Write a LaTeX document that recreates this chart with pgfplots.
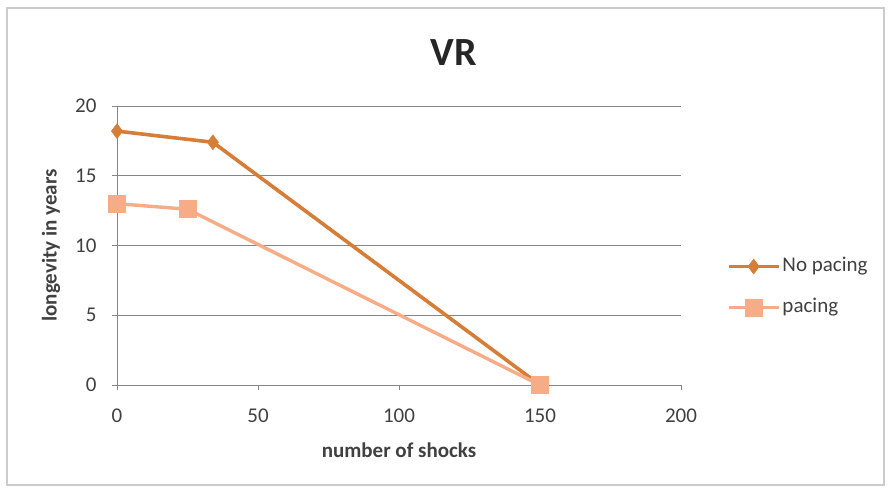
\documentclass[border=0pt]{standalone}
\usepackage{pgfplots}
\pgfplotsset{compat=1.18}
\usepackage{fontspec}
\setmainfont{Carlito}
\definecolor{nopace}{RGB}{214,125,56}
\definecolor{pace}{RGB}{245,172,135}
\definecolor{txt}{RGB}{64,64,64}
\definecolor{gridc}{RGB}{134,134,134}
\begin{document}
\begin{tikzpicture}[x=1pt,y=1pt]
\path[use as bounding box] (-117,-106) rectangle (774,385);
\draw[color=gray!40, line width=1.2pt] (-110,-100) rectangle (767,377);
\begin{axis}[
  at={(0,0)}, anchor=south west,
  scale only axis, width=564pt, height=279pt,
  xmin=0, xmax=200, ymin=0, ymax=20,
  xtick={0,50,100,150,200}, ytick={0,5,10,15,20},
  axis x line=bottom, axis y line=left,
  axis line style={gridc, line width=0.8pt, -},
  ymajorgrids, grid style={gridc, line width=0.8pt},
  tick style={gridc, line width=0.8pt},
  tick align=outside, major tick length=5pt,
  every tick label/.style={font=\fontsize{21}{24}\selectfont, text=txt},
  /pgf/number format/assume math mode=true,
  xticklabel style={yshift=-15pt},
  yticklabel style={xshift=-12pt},
  xlabel={number of shocks}, ylabel={longevity in years},
  label style={font=\fontsize{21}{24}\selectfont\bfseries, text=txt},
  xlabel style={at={(axis description cs:0.5,-0.233)}, anchor=center},
  ylabel style={at={(axis description cs:-0.117,0.5)}, anchor=center, rotate=0},
  clip=false,
  legend style={at={(rel axis cs:1.081,0.351)}, anchor=west, draw=none, fill=none,
    inner sep=0pt, font=\fontsize{21}{24}\selectfont, text=txt, row sep=21pt,
    nodes={inner xsep=2pt, inner ysep=0pt, text height=15pt, text depth=5pt}},
  legend cell align=left,
  legend image code/.code={
    \draw[#1,mark=none] (0pt,0pt) -- (50pt,0pt);
    \draw[#1,only marks] plot coordinates {(25pt,0pt)};
  },
]
\addplot[color=nopace, line width=3.6pt, mark=diamond*, mark size=7.5pt, mark options={solid, line width=0.5pt, fill=nopace}]
  coordinates {(0,18.2) (34,17.4) (150,0)};
\addlegendentry{No pacing}
\addplot[color=pace, line width=3.4pt, mark=square*, mark size=8.5pt, mark options={solid, line width=0.5pt, fill=pace}]
  coordinates {(0,13.0) (25,12.6) (150,0)};
\addlegendentry{pacing}
\end{axis}
\node[font=\fontsize{40}{46}\selectfont\bfseries, text=black!85] at (337,332) {VR};
\end{tikzpicture}
\end{document}
